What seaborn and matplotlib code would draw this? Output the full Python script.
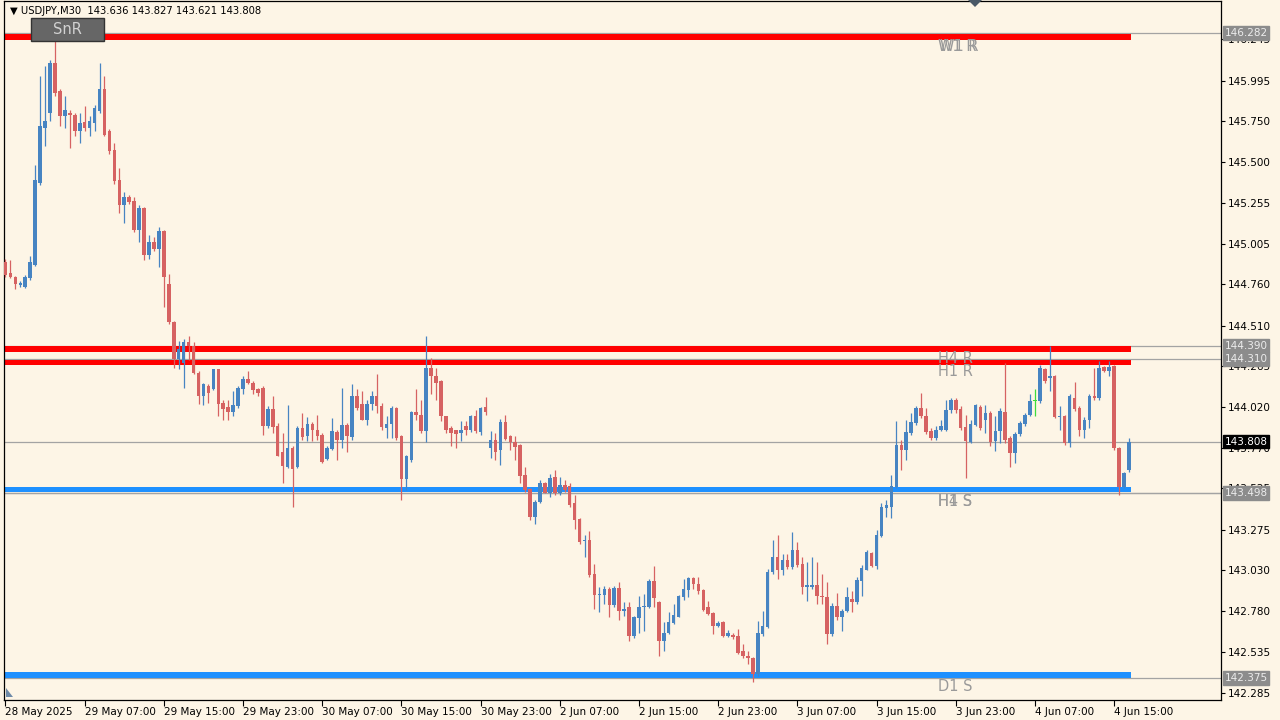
import matplotlib
matplotlib.use("Agg")
import numpy as np
import pandas as pd
import matplotlib.pyplot as plt
import seaborn as sns
from matplotlib.patches import Rectangle, Polygon

# USDJPY M30, bars from 28 May 23:00 to 4 Jun 16:30
opens = [
    144.896, 144.830, 144.805, 144.754, 144.744, 144.800, 144.880, 145.374, 145.709, 145.800,
    146.105, 145.933, 145.780, 145.800, 145.786, 145.689, 145.745, 145.709, 145.740, 145.811,
    145.943, 145.689, 145.577, 145.394, 145.242, 145.292, 145.266, 145.089, 145.221, 144.937,
    145.018, 144.978, 145.083, 144.764, 144.530, 144.307, 144.287, 144.409, 144.390, 144.226,
    144.084, 144.145, 144.124, 144.246, 144.043, 144.019, 143.986, 144.023, 144.128, 144.189,
    144.165, 144.124, 144.134, 143.901, 144.006, 143.901, 143.742, 143.657, 143.769, 143.653,
    143.891, 143.840, 143.917, 143.880, 143.850, 143.702, 143.763, 143.864, 143.815, 143.911,
    143.836, 144.084, 144.033, 143.941, 144.033, 144.084, 144.023, 143.891, 143.917, 144.013,
    143.840, 143.580, 143.698, 143.986, 143.972, 143.870, 144.256, 144.206, 144.175, 143.962,
    143.891, 143.876, 143.860, 143.901, 143.876, 143.962, 143.864, 144.019, 143.769, 143.820,
    143.759, 143.925, 143.840, 143.803, 143.789, 143.606, 143.519, 143.352, 143.444, 143.555,
    143.494, 143.596, 143.494, 143.545, 143.539, 143.434, 143.336, 143.206, 143.210, 143.007,
    142.881, 142.881, 142.915, 142.820, 142.921, 142.783, 142.804, 142.631, 142.739, 142.804,
    142.804, 142.962, 142.834, 142.600, 142.651, 142.706, 142.747, 142.865, 142.909, 142.982,
    142.946, 142.909, 142.804, 142.767, 142.692, 142.712, 142.631, 142.637, 142.631, 142.539,
    142.509, 142.499, 142.397, 142.641, 142.682, 143.017, 143.108, 143.027, 143.088, 143.047,
    143.149, 143.068, 142.925, 142.925, 142.936, 142.875, 142.869, 142.641, 142.814, 142.743,
    142.783, 142.854, 142.834, 142.966, 143.031, 143.133, 143.052, 143.234, 143.403, 143.413,
    143.531, 143.789, 143.754, 143.860, 143.921, 144.013, 143.966, 143.870, 143.830, 143.876,
    143.880, 144.002, 144.063, 144.006, 143.897, 143.803, 143.911, 144.019, 143.941, 143.982,
    143.809, 143.870, 143.986, 143.830, 143.738, 143.856, 143.917, 143.972, 144.053, 144.053,
    144.246, 144.196, 144.206, 143.958, 143.966, 143.799, 144.074, 144.013, 143.876, 143.937,
    144.084, 144.074, 144.263, 144.236, 144.267, 143.769, 143.535, 143.636,
]
highs = [
    144.917, 144.907, 144.810, 144.780, 144.815, 144.930, 145.486, 146.024, 146.085, 146.120,
    146.247, 145.943, 145.902, 145.820, 145.800, 145.800, 145.840, 145.780, 145.850, 146.105,
    146.024, 145.700, 145.618, 145.465, 145.323, 145.300, 145.292, 145.242, 145.230, 145.059,
    145.048, 145.109, 145.090, 144.825, 144.540, 144.419, 144.430, 144.450, 144.409, 144.236,
    144.165, 144.155, 144.250, 144.250, 144.063, 144.063, 144.114, 144.145, 144.206, 144.236,
    144.175, 144.134, 144.145, 144.023, 144.084, 143.921, 143.860, 144.027, 143.779, 143.901,
    143.982, 143.958, 143.925, 143.972, 143.860, 143.779, 143.952, 143.880, 144.134, 143.921,
    144.155, 144.128, 144.114, 144.063, 144.114, 144.216, 144.043, 143.962, 144.023, 144.019,
    143.850, 143.728, 143.992, 144.124, 144.063, 144.445, 144.317, 144.256, 144.181, 143.966,
    143.901, 143.880, 143.931, 143.931, 143.972, 144.002, 144.019, 144.080, 143.870, 143.860,
    143.945, 143.972, 143.850, 143.840, 143.795, 143.657, 143.525, 143.454, 143.576, 143.566,
    143.612, 143.637, 143.596, 143.576, 143.556, 143.484, 143.342, 143.240, 143.267, 143.068,
    142.926, 142.930, 142.926, 142.930, 142.956, 142.834, 142.834, 142.753, 142.875, 142.885,
    142.976, 143.052, 142.844, 142.712, 142.773, 142.824, 142.881, 142.976, 142.987, 142.987,
    142.987, 142.915, 142.844, 142.773, 142.722, 142.722, 142.665, 142.645, 142.672, 142.584,
    142.539, 142.503, 142.722, 142.783, 143.037, 143.214, 143.240, 143.129, 143.129, 143.261,
    143.200, 143.108, 143.078, 143.108, 143.078, 143.007, 142.956, 142.828, 142.889, 142.793,
    142.925, 142.905, 142.986, 143.058, 143.149, 143.139, 143.271, 143.433, 143.454, 143.606,
    143.931, 143.820, 143.941, 143.982, 144.023, 144.104, 144.013, 143.891, 143.901, 143.941,
    144.063, 144.074, 144.074, 144.023, 143.972, 143.941, 144.033, 144.027, 144.027, 143.992,
    143.962, 144.013, 144.287, 143.840, 143.864, 143.931, 143.982, 144.094, 144.128, 144.271,
    144.256, 144.389, 144.210, 144.023, 143.972, 144.094, 144.169, 144.023, 143.958, 144.094,
    144.256, 144.297, 144.267, 144.297, 144.271, 143.775, 143.625, 143.827,
]
lows = [
    144.805, 144.800, 144.734, 144.744, 144.740, 144.790, 144.870, 145.360, 145.597, 145.750,
    145.900, 145.719, 145.709, 145.587, 145.658, 145.618, 145.689, 145.658, 145.689, 145.800,
    145.660, 145.550, 145.370, 145.191, 145.130, 145.250, 145.080, 145.018, 144.907, 144.917,
    144.960, 144.866, 144.622, 144.520, 144.256, 144.246, 144.134, 144.300, 144.220, 144.033,
    144.027, 144.043, 144.120, 143.962, 143.941, 143.941, 143.962, 144.013, 144.094, 144.155,
    144.094, 144.084, 143.850, 143.891, 143.860, 143.718, 143.559, 143.647, 143.413, 143.647,
    143.820, 143.809, 143.809, 143.820, 143.677, 143.698, 143.760, 143.698, 143.769, 143.742,
    143.815, 144.002, 143.941, 143.911, 144.002, 143.982, 143.880, 143.830, 143.830, 143.820,
    143.454, 143.515, 143.687, 143.941, 143.860, 143.803, 144.094, 144.063, 143.931, 143.860,
    143.779, 143.769, 143.809, 143.850, 143.864, 143.860, 143.850, 143.972, 143.708, 143.698,
    143.667, 143.820, 143.759, 143.698, 143.555, 143.505, 143.332, 143.307, 143.433, 143.494,
    143.474, 143.484, 143.484, 143.505, 143.413, 143.281, 143.190, 143.108, 142.987, 142.793,
    142.773, 142.824, 142.747, 142.804, 142.726, 142.753, 142.600, 142.617, 142.651, 142.661,
    142.800, 142.804, 142.509, 142.539, 142.641, 142.702, 142.743, 142.848, 142.865, 142.915,
    142.885, 142.783, 142.759, 142.641, 142.682, 142.625, 142.621, 142.611, 142.519, 142.499,
    142.458, 142.352, 142.387, 142.631, 142.678, 143.007, 142.976, 142.997, 143.037, 143.037,
    143.047, 142.885, 142.844, 142.915, 142.824, 142.824, 142.580, 142.631, 142.726, 142.661,
    142.773, 142.773, 142.824, 142.875, 143.027, 143.047, 143.037, 143.230, 143.352, 143.342,
    143.525, 143.637, 143.698, 143.850, 143.911, 143.952, 143.856, 143.820, 143.815, 143.870,
    143.870, 143.982, 143.982, 143.880, 143.586, 143.799, 143.901, 143.880, 143.860, 143.779,
    143.748, 143.799, 143.799, 143.657, 143.681, 143.840, 143.905, 143.966, 143.966, 144.043,
    144.165, 144.114, 143.952, 143.880, 143.789, 143.775, 143.992, 143.840, 143.830, 143.891,
    144.063, 144.063, 144.230, 144.206, 143.759, 143.484, 143.525, 143.621,
]
closes = [
    144.815, 144.805, 144.764, 144.770, 144.805, 144.896, 145.394, 145.719, 145.750, 146.105,
    145.922, 145.780, 145.815, 145.786, 145.689, 145.740, 145.709, 145.750, 145.831, 145.943,
    145.668, 145.567, 145.388, 145.242, 145.292, 145.262, 145.089, 145.221, 144.937, 145.018,
    144.973, 145.083, 144.805, 144.530, 144.307, 144.368, 144.409, 144.390, 144.226, 144.084,
    144.155, 144.104, 144.246, 144.033, 144.006, 143.986, 144.027, 144.134, 144.189, 144.165,
    144.120, 144.100, 143.901, 144.006, 143.897, 143.722, 143.661, 143.769, 143.641, 143.891,
    143.836, 143.917, 143.876, 143.840, 143.687, 143.769, 143.870, 143.815, 143.911, 143.840,
    144.084, 144.013, 143.941, 144.033, 144.084, 144.023, 143.897, 143.917, 144.013, 143.830,
    143.580, 143.718, 143.986, 143.972, 143.870, 144.256, 144.206, 144.165, 143.962, 143.876,
    143.860, 143.856, 143.880, 143.876, 143.962, 143.870, 144.013, 143.986, 143.820, 143.742,
    143.925, 143.824, 143.803, 143.775, 143.600, 143.515, 143.352, 143.444, 143.555, 143.498,
    143.586, 143.494, 143.545, 143.515, 143.423, 143.332, 143.200, 143.214, 142.997, 142.881,
    142.885, 142.915, 142.820, 142.921, 142.783, 142.793, 142.631, 142.743, 142.804, 142.812,
    142.966, 142.861, 142.600, 142.651, 142.712, 142.759, 142.875, 142.915, 142.982, 142.942,
    142.901, 142.787, 142.763, 142.692, 142.706, 142.631, 142.651, 142.621, 142.529, 142.509,
    142.495, 142.397, 142.645, 142.692, 143.017, 143.108, 143.027, 143.088, 143.047, 143.149,
    143.058, 142.925, 142.936, 142.936, 142.875, 142.865, 142.641, 142.814, 142.743, 142.783,
    142.869, 142.834, 142.970, 143.043, 143.139, 143.052, 143.240, 143.409, 143.423, 143.539,
    143.789, 143.754, 143.864, 143.925, 144.013, 143.966, 143.864, 143.830, 143.880, 143.905,
    144.002, 144.063, 144.002, 143.891, 143.809, 143.917, 144.027, 143.891, 143.982, 143.803,
    143.870, 143.992, 143.820, 143.738, 143.856, 143.921, 143.972, 144.053, 144.053, 144.256,
    144.175, 144.206, 143.958, 143.966, 143.799, 144.084, 144.006, 143.876, 143.941, 144.084,
    144.074, 144.256, 144.236, 144.263, 143.769, 143.535, 143.620, 143.808,
]

time_labels = ["28 May 2025", "29 May 07:00", "29 May 15:00", "29 May 23:00", "30 May 07:00",
               "30 May 15:00", "30 May 23:00", "2 Jun 07:00", "2 Jun 15:00", "2 Jun 23:00",
               "3 Jun 07:00", "3 Jun 15:00", "3 Jun 23:00", "4 Jun 07:00", "4 Jun 15:00"]
price_ticks = [146.245, 145.995, 145.750, 145.500, 145.255, 145.005, 144.760, 144.510,
               144.265, 144.020, 143.770, 143.525, 143.275, 143.030, 142.780, 142.535, 142.285]

res_levels = [146.282, 144.390, 144.310]
res_names = ["W1 R", "H4 R", "H1 R"]
sup_levels = [143.498, 143.498, 142.375]
sup_names = ["H1 S", "H4 S", "D1 S"]
current_price = 143.808

bg = "#fdf5e6"
up_col = "#4784c2"
dn_col = "#d66262"

sns.set_theme(style="white", rc={"axes.facecolor": bg, "figure.facecolor": bg})
plt.rcParams["font.family"] = ["DejaVu Sans"]

df = pd.DataFrame({"open": opens, "high": highs, "low": lows, "close": closes})
df["bar"] = np.arange(len(df))
df["color"] = np.where(df["close"] > df["open"], up_col,
                       np.where(df["close"] < df["open"], dn_col, "#3cdc3c"))
df["bottom"] = df[["open", "close"]].min(axis=1)
df["body"] = (df["close"] - df["open"]).abs().clip(lower=0.006)

fig = plt.figure(figsize=(12.8, 7.2), dpi=100)
ax = fig.add_axes([4 / 1280, 20 / 720, 1217 / 1280, 699 / 720])
ax.set_facecolor(bg)

last_bar = df["bar"].iloc[-1]

# level lines (thin gray, full width) + thick bands
for lvl in res_levels + sup_levels + [current_price]:
    ax.axhline(lvl, color="#a3a3a3", lw=0.9, zorder=1)
for lvl in res_levels:
    ax.fill_between([-0.5, last_bar + 0.4], lvl - 0.040, lvl - 0.005, color="#ff0000", lw=0, zorder=2)
for lvl in sup_levels:
    ax.fill_between([-0.5, last_bar + 0.4], lvl + 0.003, lvl + 0.037, color="#1e90ff", lw=0, zorder=2)

# candles
ax.vlines(df["bar"], df["low"], df["high"], colors=df["color"], lw=0.9, zorder=3)
ax.bar(df["bar"], df["body"], bottom=df["bottom"], width=0.72, color=df["color"], lw=0, zorder=4)

# level names
for lvl, name in zip(res_levels, res_names):
    ax.annotate(name, xy=(188.5, lvl), xytext=(0, -9.5), textcoords="offset points",
                va="center", ha="left", fontsize=10.5, color="#9a9a9a", zorder=5)
ax.annotate(res_names[0], xy=(188.5, res_levels[0]), xytext=(0.8, -9.5), textcoords="offset points",
            va="center", ha="left", fontsize=10.5, color="#9a9a9a", zorder=5)
for lvl, name in zip(sup_levels, sup_names):
    ax.annotate(name, xy=(188.5, lvl), xytext=(0, -6), textcoords="offset points",
                va="center", ha="left", fontsize=10.5, color="#9a9a9a", zorder=5)

ax.set_xlim(-0.3, 245.6)
ax.set_ylim(142.242, 146.478)

ax.yaxis.tick_right()
ax.set_yticks(price_ticks)
ax.set_yticklabels([f"{t:.3f}" for t in price_ticks])
ax.set_xticks(np.arange(0, 16 * len(time_labels), 16))
ax.set_xticklabels(time_labels, ha="left")
ax.tick_params(axis="y", length=3, width=0.8, labelsize=7.5, pad=2, colors="black", direction="out")
ax.tick_params(axis="x", length=4, width=0.8, labelsize=7.5, pad=1, colors="black", direction="out",
               bottom=True)
ax.set_xlabel("")
ax.set_ylabel("")
for s in ax.spines.values():
    s.set_color("black")
    s.set_linewidth(0.9)
    s.set_visible(True)

# price boxes on the right scale
for lvl in res_levels + sup_levels[1:]:
    ax.annotate(f"{lvl:.3f}", xy=(1, lvl), xycoords=("axes fraction", "data"), xytext=(2.5, 0),
                textcoords="offset points", va="center", ha="left", fontsize=7.5, color="#ececec",
                bbox=dict(boxstyle="square,pad=0.18", fc="#8c8c8c", ec="#8c8c8c"), annotation_clip=False)
ax.annotate(f"{current_price:.3f}", xy=(1, current_price), xycoords=("axes fraction", "data"),
            xytext=(2.5, 0), textcoords="offset points", va="center", ha="left", fontsize=7.5,
            color="white", bbox=dict(boxstyle="square,pad=0.18", fc="black", ec="black"),
            annotation_clip=False)

# header and SnR button
fig.text(10 / 1280, 1 - 11 / 720,
         f"\u25bc USDJPY,M30  {opens[-1]:.3f} {highs[-1]:.3f} {lows[-1]:.3f} {closes[-1]:.3f}",
         fontsize=7.2, va="center", ha="left", color="black")
fig.patches.append(Rectangle((31 / 1280, 1 - 41 / 720), 73 / 1280, 23 / 720, transform=fig.transFigure,
                             fc="#666666", ec="#333333", lw=1.0, zorder=10))
fig.text(67.5 / 1280, 1 - 30 / 720, "SnR", fontsize=10.5, color="#d2d2d2", ha="center", va="center",
         zorder=11)

# chart shift marker and small corner marker
fig.patches.append(Polygon([[968 / 1280, 1.0], [982 / 1280, 1.0], [975 / 1280, 1 - 7 / 720]], closed=True,
                           transform=fig.transFigure, fc="#4a5866", ec="none", zorder=10))
fig.patches.append(Polygon([[6 / 1280, 1 - 688 / 720], [6 / 1280, 1 - 697 / 720], [13 / 1280, 1 - 697 / 720]],
                           closed=True, transform=fig.transFigure, fc="#6e8aa8", ec="none", zorder=10))

fig.savefig("out.png", dpi=100, facecolor=bg)
